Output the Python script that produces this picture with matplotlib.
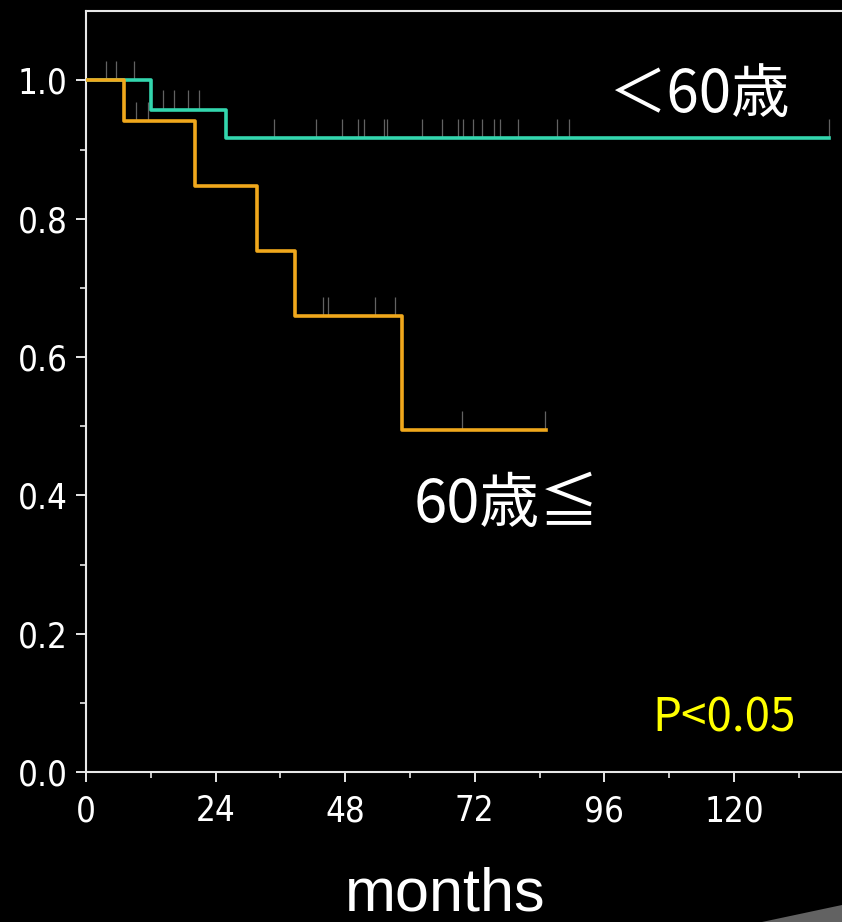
import numpy as np
import matplotlib
matplotlib.use("Agg")
import matplotlib.pyplot as plt
from matplotlib.patches import Polygon
from matplotlib import font_manager

# Kaplan-Meier steps, months / survival
young_time = [0, 12, 26, 137.6]
young_surv = [1.0, 0.958, 0.917, 0.917]
old_time = [0, 7, 20.2, 31.6, 38.7, 58.6, 85.1]
old_surv = [1.0, 0.941, 0.847, 0.753, 0.659, 0.494, 0.494]

# censored cases
young_cens = [3.7, 5.6, 8.9, 14.3, 16.3, 18.9, 20.9, 34.8, 42.6, 47.4, 50.4, 51.5,
              55.2, 55.7, 62.2, 65.9, 68.9, 69.8, 71.7, 73.3, 75.6, 76.7, 80.0,
              87.2, 89.4, 137.6]
old_cens = [7.0, 9.3, 11.5, 43.9, 44.8, 53.5, 57.2, 69.6, 85.0]

x_ticks = [0, 24, 48, 72, 96, 120]
y_ticks = [0.0, 0.2, 0.4, 0.6, 0.8, 1.0]

TEAL = "#33d6ae"
ORANGE = "#f0a81c"


def surv_at(times, surv, t):
    i = np.searchsorted(times, t, side="right") - 1
    return surv[min(i, len(surv) - 1)]


fig = plt.figure(figsize=(8.42, 9.22), dpi=100, facecolor="black")
ax = fig.add_axes([0.1021, 0.1627, 0.9235, 0.8250], facecolor="black")

for times, surv, cens, col in [(young_time, young_surv, young_cens, TEAL),
                               (old_time, old_surv, old_cens, ORANGE)]:
    ax.step(times, surv, where="post", color=col, lw=2.6, zorder=3)
    ys = [surv_at(times, surv, t) for t in cens]
    ax.vlines(cens, ys, [y + 0.028 for y in ys], color="#8c8c8c", lw=0.9,
              alpha=0.7, zorder=2)

ax.set_xlim(0, 144)
ax.set_ylim(0, 1.1)
ax.set_xticks(x_ticks)
ax.set_xticks(np.arange(12, 144, 24), minor=True)
ax.set_yticks(y_ticks)
ax.set_yticks(np.arange(0.1, 1.05, 0.2), minor=True)
ax.set_yticklabels([f"{v:.1f}" for v in y_ticks])

tick_font = font_manager.FontProperties(family="DejaVu Sans", stretch="condensed", size=25)
for lab in ax.get_xticklabels() + ax.get_yticklabels():
    lab.set_fontproperties(tick_font)
    lab.set_color("white")

ax.tick_params(which="major", length=7, width=1.4, color="#e8e8e8", pad=6)
ax.tick_params(which="minor", length=4, width=1.2, color="#e8e8e8")
ax.tick_params(axis="x", which="major", pad=9)

for side in ["left", "top", "bottom", "right"]:
    ax.spines[side].set_color("#e8e8e8")
    ax.spines[side].set_linewidth(1.5)

cjk = ["Noto Sans CJK JP", "DejaVu Sans"]
ax.text(96.9, 0.978, "＜60歳", color="white", fontsize=42, family=cjk,
        ha="left", va="center")
ax.text(60.6, 0.386, "60歳≦", color="white", fontsize=43, family=cjk,
        ha="left", va="center")
ax.text(104.8, 0.078, "P<0.05", color="#ffff00", fontsize=33, family=cjk,
        ha="left", va="center")

fig.text(0.5285, 0.013, "months", color="white", fontsize=44,
         family="Liberation Sans", ha="center", va="baseline")

# grey slide swoosh in the corner
fig.patches.append(Polygon([(762 / 842, 0), (1, 17 / 922), (1, 0)], closed=True,
                           transform=fig.transFigure, facecolor="#626262",
                           edgecolor="none"))

fig.savefig("out.png", dpi=100, facecolor="black")
